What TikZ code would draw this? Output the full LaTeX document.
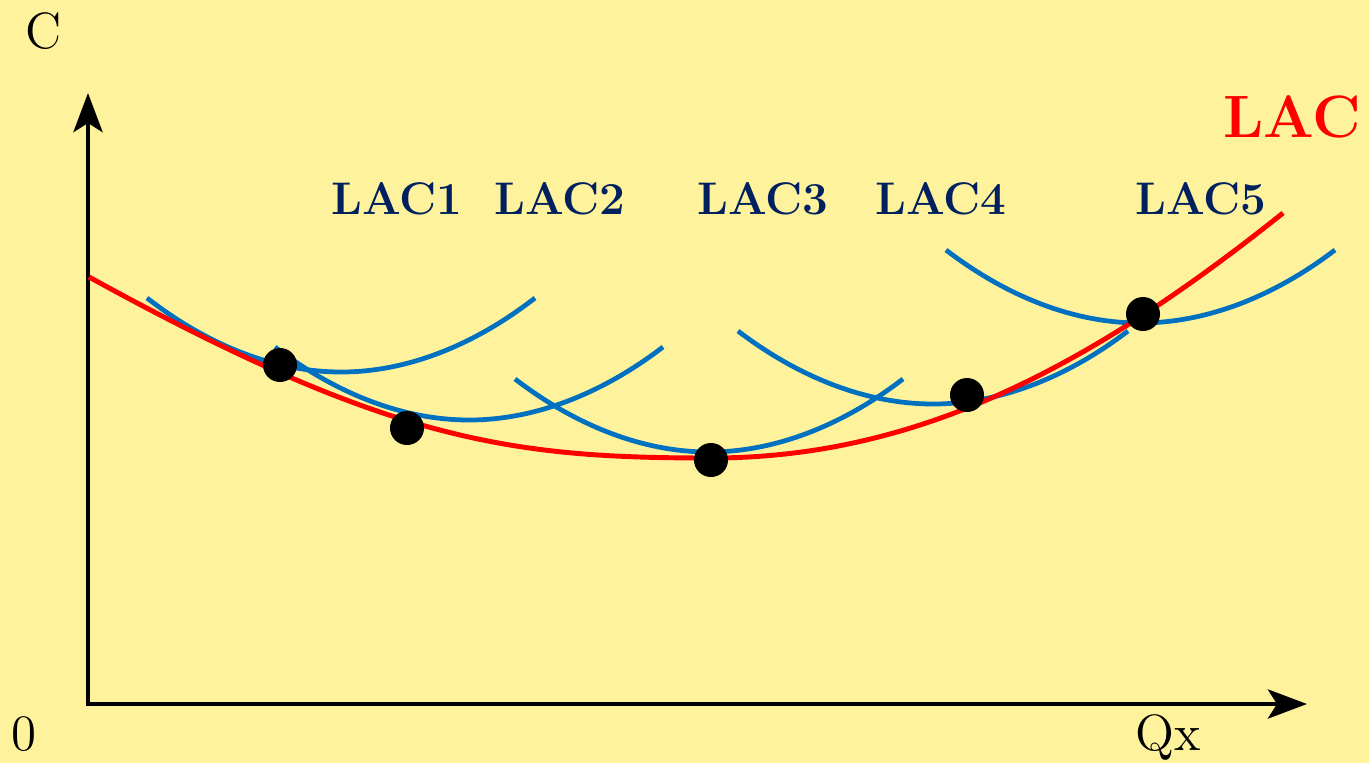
\documentclass[tikz,border=0pt]{standalone}
\usetikzlibrary{arrows.meta}
\definecolor{bgyellow}{HTML}{FEF29C}
\definecolor{lacred}{HTML}{FF0000}
\definecolor{sacblue}{HTML}{0070C0}
\definecolor{labelnavy}{HTML}{002060}

\begin{document}
\begin{tikzpicture}[x=0.01cm, y=-0.01cm,
        % styles
        axis/.style = {
                line width=1.4pt, draw=black,
                -{Stealth[length=3.9mm, width=2.9mm, inset=0.9mm]}
            },
        envelope/.style = {
                line width=1.4pt, draw=lacred
            },
        shortrun/.style = {
                line width=1.35pt, draw=sacblue
            },
        point/.style = {
                circle, fill=black, inner sep=0pt, minimum size=0.34cm
            },
        axislabel/.style = {
                font=\fontsize{14.5}{17}\selectfont, text=black, inner sep=0pt
            },
        curvelabel/.style = {
                font=\fontsize{13}{15}\selectfont\bfseries, text=labelnavy, inner sep=0pt
            }]

    \fill [bgyellow] (0,0) rectangle (1369,763);
    \useasboundingbox (0,0) rectangle (1369,763);

    % axes
    \coordinate (origin) at (88,706);
    \coordinate (c_top) at (88,93);
    \coordinate (q_start) at (86,704);
    \coordinate (q_end) at (1307,704);
    \draw [axis] (origin) -- (c_top);
    \draw [axis] (q_start) -- (q_end);

    \node (c_label) [axislabel, anchor=base] at (44,48) {C};
    \node (zero_label) [axislabel, anchor=base] at (24,750) {0};
    \node (qx_label) [axislabel, anchor=base] at (1168,750) {Qx};

    % short-run curves
    \draw [shortrun] (147,298) parabola bend (341,372) (535,298);
    \draw [shortrun] (275,347) parabola bend (469,420) (663,347);
    \draw [shortrun] (515,379) parabola bend (709,452) (903,379);
    \draw [shortrun] (738,331) parabola bend (933,404) (1128,331);
    \draw [shortrun] (946,250) parabola bend (1140,323) (1335,250);

    % long-run envelope
    \draw [envelope] (89,277) .. controls (389,442) and (511,458) .. (711,458)
        .. controls (911,458) and (1083,373) .. (1283,213);

    % tangency points
    \node (pt_1) [point] at (280,365) {};
    \node (pt_2) [point] at (407,428) {};
    \node (pt_3) [point] at (711,460) {};
    \node (pt_4) [point] at (967,395) {};
    \node (pt_5) [point] at (1143,314) {};

    % labels
    \node (lac_1) [curvelabel] at (397,199) {LAC1};
    \node (lac_2) [curvelabel] at (560,199) {LAC2};
    \node (lac_3) [curvelabel] at (763,199) {LAC3};
    \node (lac_4) [curvelabel] at (941,199) {LAC4};
    \node (lac_5) [curvelabel] at (1201,199) {LAC5};
    \node (lac) [curvelabel, text=lacred, font=\fontsize{17}{20}\selectfont\bfseries] at (1292,117) {LAC};

\end{tikzpicture}
\end{document}
